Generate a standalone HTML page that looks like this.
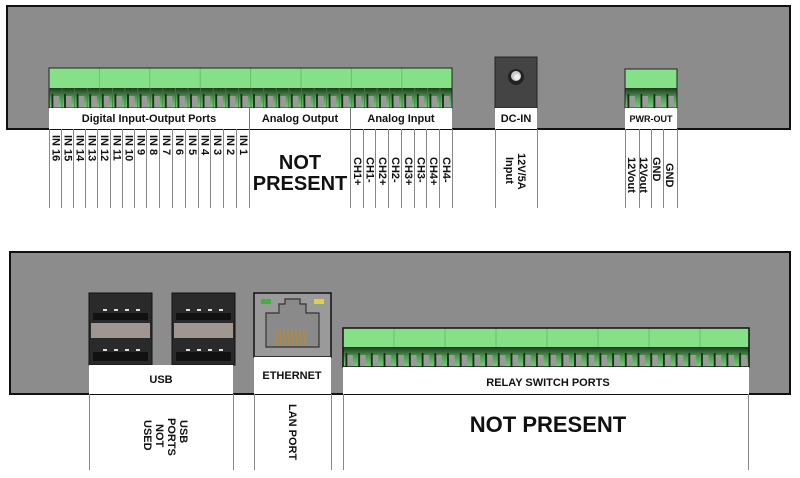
<!DOCTYPE html>
<html><head><meta charset="utf-8"><style>
html,body{margin:0;padding:0;background:#fff;}
svg{display:block;font-family:"Liberation Sans",Arial,sans-serif;font-weight:bold;}
</style></head><body>
<svg width="800" height="478" viewBox="0 0 800 478" xmlns="http://www.w3.org/2000/svg">
<defs>
<linearGradient id="pg" x1="0" y1="0" x2="0" y2="1">
<stop offset="0" stop-color="#203820"/><stop offset="0.5" stop-color="#4f9f50"/><stop offset="1" stop-color="#74cf75"/>
</linearGradient>
<pattern id="pins" patternUnits="userSpaceOnUse" x="49" y="88" width="12.6" height="20">
<rect width="12.6" height="20" fill="url(#pg)"/>
<rect x="4" y="8" width="6" height="11" fill="#9a9a9a"/>
<rect x="2.5" y="6" width="1.8" height="14" fill="#1a2a1a"/>
<rect x="0" y="0" width="0.8" height="20" fill="#3d7a3e"/>
</pattern>
<pattern id="pins2" patternUnits="userSpaceOnUse" x="625" y="88" width="13" height="20">
<rect width="13" height="20" fill="url(#pg)"/>
<rect x="4" y="8" width="6" height="11" fill="#9a9a9a"/>
<rect x="2.5" y="6" width="1.8" height="14" fill="#1a2a1a"/>
</pattern>
<pattern id="pins3" patternUnits="userSpaceOnUse" x="343" y="347" width="12.7" height="20">
<rect width="12.7" height="20" fill="url(#pg)"/>
<rect x="4" y="8" width="6" height="11" fill="#9a9a9a"/>
<rect x="2.5" y="6" width="1.8" height="14" fill="#1a2a1a"/>
</pattern>
</defs>

<!-- TOP PANEL -->
<rect x="7" y="6" width="783" height="123" fill="#8c8c8c" stroke="#111" stroke-width="2"/>
<rect x="49" y="68" width="403" height="21" fill="#86e087"/>
<rect x="49" y="88" width="403" height="20" fill="url(#pins)"/>
<g stroke="#6cbf6d" stroke-width="1">
<line x1="99.4" y1="68" x2="99.4" y2="88"/><line x1="149.8" y1="68" x2="149.8" y2="88"/><line x1="200.2" y1="68" x2="200.2" y2="88"/><line x1="250.6" y1="68" x2="250.6" y2="88"/><line x1="301" y1="68" x2="301" y2="88"/><line x1="351.4" y1="68" x2="351.4" y2="88"/><line x1="401.8" y1="68" x2="401.8" y2="88"/>
</g>
<rect x="49" y="68" width="403" height="40" fill="none" stroke="#222" stroke-width="1"/>
<rect x="49" y="108" width="403" height="21" fill="#fff"/>
<g stroke="#777" stroke-width="1"><line x1="249.5" y1="108" x2="249.5" y2="129"/><line x1="350.5" y1="108" x2="350.5" y2="129"/></g>
<g font-size="11" text-anchor="middle" fill="#111">
<text x="149" y="122">Digital Input-Output Ports</text>
<text x="300" y="122">Analog Output</text>
<text x="401" y="122">Analog Input</text>
</g>
<rect x="495" y="57" width="42" height="51" fill="#444" stroke="#222"/>
<circle cx="516" cy="77" r="8" fill="#222"/>
<circle cx="516" cy="76" r="5" fill="#ccc"/>
<circle cx="517" cy="77" r="3" fill="#eee"/>
<rect x="495" y="108" width="42" height="21" fill="#fff"/>
<text x="516" y="122" font-size="11" text-anchor="middle" fill="#111">DC-IN</text>
<rect x="625" y="69" width="52" height="20" fill="#86e087"/>
<rect x="625" y="88" width="52" height="20" fill="url(#pins2)"/>
<rect x="625" y="69" width="52" height="39" fill="none" stroke="#222"/>
<rect x="625" y="108" width="52" height="21" fill="#fff"/>
<text x="651" y="122" font-size="9" text-anchor="middle" fill="#111">PWR-OUT</text>

<g stroke="#888" stroke-width="1">
<line x1="49.5" y1="129" x2="49.5" y2="208"/><line x1="61.5" y1="129" x2="61.5" y2="208"/><line x1="73.5" y1="129" x2="73.5" y2="208"/><line x1="85.5" y1="129" x2="85.5" y2="208"/><line x1="97.5" y1="129" x2="97.5" y2="208"/><line x1="110.5" y1="129" x2="110.5" y2="208"/><line x1="122.5" y1="129" x2="122.5" y2="208"/><line x1="134.5" y1="129" x2="134.5" y2="208"/><line x1="146.5" y1="129" x2="146.5" y2="208"/><line x1="159.5" y1="129" x2="159.5" y2="208"/><line x1="172.5" y1="129" x2="172.5" y2="208"/><line x1="185.5" y1="129" x2="185.5" y2="208"/><line x1="198.5" y1="129" x2="198.5" y2="208"/><line x1="210.5" y1="129" x2="210.5" y2="208"/><line x1="223.5" y1="129" x2="223.5" y2="208"/><line x1="236.5" y1="129" x2="236.5" y2="208"/><line x1="249.5" y1="129" x2="249.5" y2="208"/>
<line x1="350.5" y1="129" x2="350.5" y2="208"/><line x1="363.5" y1="129" x2="363.5" y2="208"/><line x1="375.5" y1="129" x2="375.5" y2="208"/><line x1="388.5" y1="129" x2="388.5" y2="208"/><line x1="401.5" y1="129" x2="401.5" y2="208"/><line x1="414.5" y1="129" x2="414.5" y2="208"/><line x1="426.5" y1="129" x2="426.5" y2="208"/><line x1="439.5" y1="129" x2="439.5" y2="208"/><line x1="452.5" y1="129" x2="452.5" y2="208"/>
<line x1="495.5" y1="129" x2="495.5" y2="208"/><line x1="537.5" y1="129" x2="537.5" y2="208"/>
<line x1="625.5" y1="129" x2="625.5" y2="208"/><line x1="639.5" y1="129" x2="639.5" y2="208"/><line x1="651.5" y1="129" x2="651.5" y2="208"/><line x1="663.5" y1="129" x2="663.5" y2="208"/><line x1="677.5" y1="129" x2="677.5" y2="208"/>
</g>
<g font-size="11" fill="#111" dominant-baseline="central">
<text transform="translate(55.5,135) rotate(90)">IN 16</text>
<text transform="translate(67.5,135) rotate(90)">IN 15</text>
<text transform="translate(79.5,135) rotate(90)">IN 14</text>
<text transform="translate(91.5,135) rotate(90)">IN 13</text>
<text transform="translate(104,135) rotate(90)">IN 12</text>
<text transform="translate(116.5,135) rotate(90)">IN 11</text>
<text transform="translate(128.5,135) rotate(90)">IN 10</text>
<text transform="translate(140.5,135) rotate(90)">IN 9</text>
<text transform="translate(153,135) rotate(90)">IN 8</text>
<text transform="translate(166,135) rotate(90)">IN 7</text>
<text transform="translate(179,135) rotate(90)">IN 6</text>
<text transform="translate(192,135) rotate(90)">IN 5</text>
<text transform="translate(204.5,135) rotate(90)">IN 4</text>
<text transform="translate(217,135) rotate(90)">IN 3</text>
<text transform="translate(230,135) rotate(90)">IN 2</text>
<text transform="translate(243,135) rotate(90)">IN 1</text>
<text transform="translate(357,157) rotate(90)">CH1+</text>
<text transform="translate(369.5,157) rotate(90)">CH1-</text>
<text transform="translate(382,157) rotate(90)">CH2+</text>
<text transform="translate(395,157) rotate(90)">CH2-</text>
<text transform="translate(408,157) rotate(90)">CH3+</text>
<text transform="translate(420.5,157) rotate(90)">CH3-</text>
<text transform="translate(433,157) rotate(90)">CH4+</text>
<text transform="translate(446,157) rotate(90)">CH4-</text>
<text transform="translate(521,153) rotate(90)">12V/5A</text>
<text transform="translate(509,157) rotate(90)">Input</text>
<text transform="translate(631,157) rotate(90)">12Vout</text>
<text transform="translate(643,157) rotate(90)">12Vout</text>
<text transform="translate(656,157) rotate(90)">GND</text>
<text transform="translate(669,163) rotate(90)">GND</text>
</g>
<g font-size="20" text-anchor="middle" fill="#111">
<text x="300" y="169">NOT</text>
<text x="300" y="190">PRESENT</text>
</g>

<!-- BOTTOM PANEL -->
<rect x="10" y="252" width="780" height="142" fill="#8c8c8c" stroke="#111" stroke-width="2"/>
<g>
<rect x="89" y="293" width="63" height="72" fill="#2a2a2a" stroke="#111"/>
<rect x="93" y="313" width="55" height="7" fill="#111"/>
<rect x="91" y="323" width="59" height="15" fill="#a09890"/>
<rect x="93" y="352" width="55" height="9" fill="#111"/>
<rect x="172" y="293" width="63" height="72" fill="#2a2a2a" stroke="#111"/>
<rect x="176" y="313" width="55" height="7" fill="#111"/>
<rect x="174" y="323" width="59" height="15" fill="#a09890"/>
<rect x="176" y="352" width="55" height="9" fill="#111"/>
<g fill="#ddd">
<rect x="103" y="309" width="4" height="2"/><rect x="114" y="309" width="4" height="2"/><rect x="125" y="309" width="4" height="2"/><rect x="136" y="309" width="4" height="2"/>
<rect x="103" y="349" width="4" height="2"/><rect x="114" y="349" width="4" height="2"/><rect x="125" y="349" width="4" height="2"/><rect x="136" y="349" width="4" height="2"/>
<rect x="186" y="309" width="4" height="2"/><rect x="197" y="309" width="4" height="2"/><rect x="208" y="309" width="4" height="2"/><rect x="219" y="309" width="4" height="2"/>
<rect x="186" y="349" width="4" height="2"/><rect x="197" y="349" width="4" height="2"/><rect x="208" y="349" width="4" height="2"/><rect x="219" y="349" width="4" height="2"/>
</g>
</g>
<rect x="89" y="365" width="144" height="29" fill="#fff"/>
<text x="161" y="383" font-size="11" text-anchor="middle" fill="#111">USB</text>
<rect x="254" y="293" width="77" height="64" fill="#9a9a9a" stroke="#111" stroke-width="1.5"/>
<path d="M266 313 H279 V304 H285 V299 H300 V304 H306 V313 H319 V347 H266 Z" fill="#8a8a8a" stroke="#333" stroke-width="1.2"/>
<rect x="261" y="299" width="10" height="5" fill="#3cb43c"/>
<rect x="314" y="299" width="10" height="5" fill="#e0d040"/>
<g stroke="#b08a40" stroke-width="1.3">
<line x1="276" y1="332" x2="277" y2="346"/><line x1="280" y1="330" x2="281" y2="346"/><line x1="284" y1="330" x2="285" y2="346"/><line x1="288" y1="330" x2="289" y2="346"/><line x1="292" y1="330" x2="293" y2="346"/><line x1="296" y1="330" x2="297" y2="346"/><line x1="300" y1="330" x2="301" y2="346"/><line x1="304" y1="330" x2="305" y2="346"/>
</g>
<rect x="254" y="357" width="77" height="37" fill="#fff"/>
<text x="292" y="379" font-size="11" text-anchor="middle" fill="#111">ETHERNET</text>
<rect x="343" y="328" width="406" height="20" fill="#86e087"/>
<rect x="343" y="347" width="406" height="20" fill="url(#pins3)"/>
<g stroke="#6cbf6d"><line x1="394" y1="328" x2="394" y2="347"/><line x1="445" y1="328" x2="445" y2="347"/><line x1="496" y1="328" x2="496" y2="347"/><line x1="547" y1="328" x2="547" y2="347"/><line x1="598" y1="328" x2="598" y2="347"/><line x1="649" y1="328" x2="649" y2="347"/><line x1="700" y1="328" x2="700" y2="347"/></g>
<rect x="343" y="328" width="406" height="39" fill="none" stroke="#111" stroke-width="1.5"/>
<rect x="343" y="367" width="406" height="27" fill="#fff"/>
<text x="548" y="386" font-size="11" text-anchor="middle" fill="#111">RELAY SWITCH PORTS</text>

<g stroke="#888" stroke-width="1">
<line x1="89.5" y1="394" x2="89.5" y2="470"/><line x1="233.5" y1="394" x2="233.5" y2="470"/><line x1="254.5" y1="394" x2="254.5" y2="470"/><line x1="331.5" y1="394" x2="331.5" y2="470"/><line x1="343.5" y1="394" x2="343.5" y2="470"/><line x1="748.5" y1="394" x2="748.5" y2="470"/>
</g>
<g font-size="11" fill="#111" dominant-baseline="central">
<text transform="translate(183,420) rotate(90)">USB</text>
<text transform="translate(171,418) rotate(90)">PORTS</text>
<text transform="translate(159,424) rotate(90)">NOT</text>
<text transform="translate(147,420) rotate(90)">USED</text>
<text transform="translate(292,404) rotate(90)">LAN PORT</text>
</g>
<text x="548" y="432" font-size="22" text-anchor="middle" fill="#111">NOT PRESENT</text>
</svg>
</body></html>
